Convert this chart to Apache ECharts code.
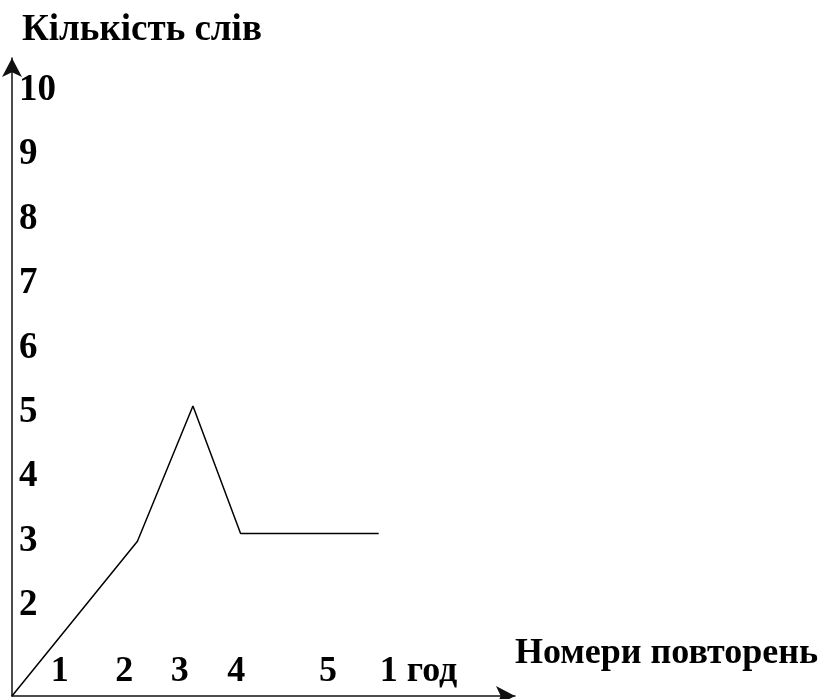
<!DOCTYPE html>
<html>
<head>
<meta charset="utf-8">
<script src="https://cdn.jsdelivr.net/npm/echarts@6/dist/echarts.min.js"></script>
<style>
  html, body { margin: 0; padding: 0; background: #fff; }
  #chart { width: 835px; height: 699px; }
</style>
</head>
<body>
<div id="chart"></div>
<script>
// дані графіка (кількість слів по повтореннях)
var lineX = [0, 2.08, 3, 3.79, 5.29, 6.08];
var lineY = [0.6, 3, 5.1, 3.12, 3.12, 3.12];

// підписи осей
var xTickPos = [0.79, 1.86, 2.78, 3.72, 5.24, 6.74];
var xTickText = ['1', '2', '3', '4', '5', '1 год'];
var yTicks = [2, 3, 4, 5, 6, 7, 8, 9, 10];

var FONT = "'Liberation Serif', 'Times New Roman', serif";

var myChart = echarts.init(document.getElementById('chart'));

var option = {
    animation: false,
    backgroundColor: '#fff',
    grid: {
        left: 12,
        right: 835 - 515,
        top: 58,
        bottom: 3,
        containLabel: false
    },
    xAxis: {
        type: 'value',
        min: 0,
        max: 8.34,
        splitLine: { show: false },
        axisTick: { show: false },
        axisLine: {
            lineStyle: { color: '#111', width: 1.5 },
            symbol: ['none', 'arrow'],
            symbolSize: [15, 19]
        },
        axisLabel: {
            inside: true,
            margin: 6,
            customValues: xTickPos,
            formatter: function (v) {
                var i = xTickPos.indexOf(v);
                return i >= 0 ? xTickText[i] : '';
            },
            color: '#000',
            fontFamily: FONT,
            fontWeight: 'bold',
            fontSize: 36
        },
        name: 'Номери повторень',
        nameLocation: 'end',
        nameGap: 0,
        nameTextStyle: {
            color: '#000',
            fontFamily: FONT,
            fontWeight: 'bold',
            fontSize: 36,
            align: 'left',
            verticalAlign: 'bottom',
            padding: [0, 0, 24, 0]
        }
    },
    yAxis: {
        type: 'value',
        min: 0.6,
        max: 10.5,
        splitLine: { show: false },
        axisTick: { show: false },
        axisLine: {
            lineStyle: { color: '#111', width: 1.5 },
            symbol: ['none', 'arrow'],
            symbolSize: [15, 19]
        },
        axisLabel: {
            inside: true,
            margin: 7,
            customValues: yTicks,
            color: '#000',
            fontFamily: FONT,
            fontWeight: 'bold',
            fontSize: 37
        },
        name: 'Кількість слів',
        nameLocation: 'end',
        nameGap: 9,
        nameTextStyle: {
            color: '#000',
            fontFamily: FONT,
            fontWeight: 'bold',
            fontSize: 37,
            align: 'left',
            padding: [0, 0, 0, 10]
        }
    },
    series: [
        {
            type: 'line',
            data: lineX.map(function (x, i) { return [x, lineY[i]]; }),
            symbol: 'none',
            lineStyle: { color: '#000', width: 1.5 }
        }
    ]
};

myChart.setOption(option);
</script>
</body>
</html>
